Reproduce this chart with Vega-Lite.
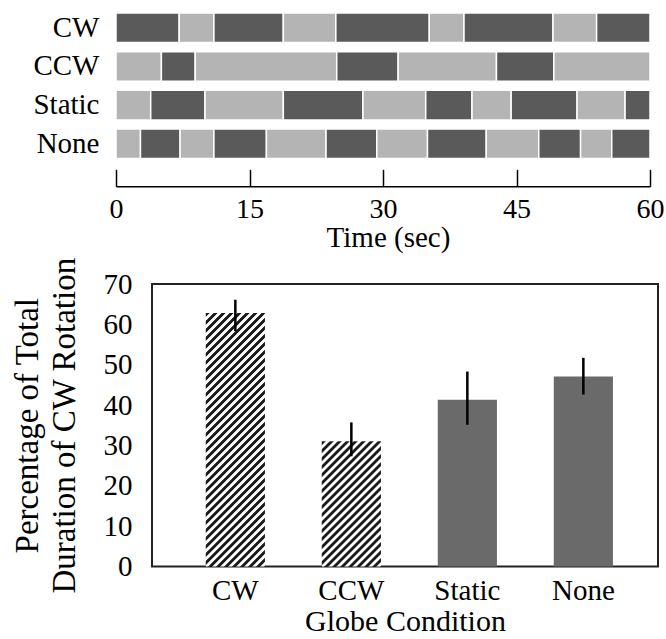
{
 "$schema": "https://vega.github.io/schema/vega-lite/v6.json",
 "padding": {"left": 10, "top": 12, "right": 0, "bottom": 0},
 "background": "white",
 "config": {"font": "Liberation Serif", "axis": {"labelFont": "Liberation Serif", "titleFont": "Liberation Serif", "labelColor": "#000", "titleColor": "#000", "titleFontWeight": "normal", "grid": false}},
 "spacing": 3,
 "datasets": {
  "segments": [
   {"row": "CW", "start": 0, "end": 7.1, "dir": "CW"},
   {"row": "CW", "start": 7.1, "end": 11.0, "dir": "CCW"},
   {"row": "CW", "start": 11.0, "end": 18.8, "dir": "CW"},
   {"row": "CW", "start": 18.8, "end": 24.7, "dir": "CCW"},
   {"row": "CW", "start": 24.7, "end": 35.2, "dir": "CW"},
   {"row": "CW", "start": 35.2, "end": 39.1, "dir": "CCW"},
   {"row": "CW", "start": 39.1, "end": 49.1, "dir": "CW"},
   {"row": "CW", "start": 49.1, "end": 54.0, "dir": "CCW"},
   {"row": "CW", "start": 54.0, "end": 60, "dir": "CW"},
   {"row": "CCW", "start": 0, "end": 5.1, "dir": "CCW"},
   {"row": "CCW", "start": 5.1, "end": 8.9, "dir": "CW"},
   {"row": "CCW", "start": 8.9, "end": 24.8, "dir": "CCW"},
   {"row": "CCW", "start": 24.8, "end": 31.7, "dir": "CW"},
   {"row": "CCW", "start": 31.7, "end": 42.75, "dir": "CCW"},
   {"row": "CCW", "start": 42.75, "end": 49.2, "dir": "CW"},
   {"row": "CCW", "start": 49.2, "end": 60, "dir": "CCW"},
   {"row": "Static", "start": 0, "end": 3.9, "dir": "CCW"},
   {"row": "Static", "start": 3.9, "end": 10.0, "dir": "CW"},
   {"row": "Static", "start": 10.0, "end": 18.8, "dir": "CCW"},
   {"row": "Static", "start": 18.8, "end": 27.75, "dir": "CW"},
   {"row": "Static", "start": 27.75, "end": 34.8, "dir": "CCW"},
   {"row": "Static", "start": 34.8, "end": 40.0, "dir": "CW"},
   {"row": "Static", "start": 40.0, "end": 44.4, "dir": "CCW"},
   {"row": "Static", "start": 44.4, "end": 51.8, "dir": "CW"},
   {"row": "Static", "start": 51.8, "end": 57.2, "dir": "CCW"},
   {"row": "Static", "start": 57.2, "end": 60, "dir": "CW"},
   {"row": "None", "start": 0, "end": 2.75, "dir": "CCW"},
   {"row": "None", "start": 2.75, "end": 7.2, "dir": "CW"},
   {"row": "None", "start": 7.2, "end": 11.0, "dir": "CCW"},
   {"row": "None", "start": 11.0, "end": 16.9, "dir": "CW"},
   {"row": "None", "start": 16.9, "end": 23.6, "dir": "CCW"},
   {"row": "None", "start": 23.6, "end": 29.3, "dir": "CW"},
   {"row": "None", "start": 29.3, "end": 35.0, "dir": "CCW"},
   {"row": "None", "start": 35.0, "end": 41.6, "dir": "CW"},
   {"row": "None", "start": 41.6, "end": 47.5, "dir": "CCW"},
   {"row": "None", "start": 47.5, "end": 52.2, "dir": "CW"},
   {"row": "None", "start": 52.2, "end": 55.7, "dir": "CCW"},
   {"row": "None", "start": 55.7, "end": 60, "dir": "CW"}
  ],
  "bars": [
   {"cond": "CW", "pct": 62.8, "lo": 58.3, "hi": 66.1},
   {"cond": "CCW", "pct": 31.0, "lo": 27.3, "hi": 35.7},
   {"cond": "Static", "pct": 41.3, "lo": 35.1, "hi": 48.3},
   {"cond": "None", "pct": 47.1, "lo": 42.6, "hi": 51.7}
  ]
 },
 "vconcat": [
  {
   "width": 498,
   "height": 145.6,
   "view": {"stroke": null},
   "data": {"name": "segments"},
   "mark": {"type": "bar", "stroke": "white", "strokeWidth": 1.5},
   "encoding": {
    "y": {"field": "row", "type": "nominal", "sort": ["CW", "CCW", "Static", "None"], "scale": {"paddingInner": 0.235, "paddingOuter": 0},
      "axis": {"title": null, "domain": false, "ticks": false, "labelFontSize": 29, "labelPadding": 17, "offset": 36}},
    "x": {"field": "start", "type": "quantitative", "scale": {"domain": [0, 60], "nice": false, "zero": false, "range": [-36, 498]},
      "axis": {"values": [0, 15, 30, 45, 60], "title": "Time (sec)", "titleFontSize": 29, "titlePadding": 0, "titleX": 236, "offset": 27.7, "tickSize": -17, "tickWidth": 1.5, "tickColor": "#000", "domainColor": "#000", "domainWidth": 1.5, "labelFontSize": 28, "labelPadding": 26, "labelFlush": false}},
    "x2": {"field": "end"},
    "color": {"field": "dir", "type": "nominal", "scale": {"domain": ["CW", "CCW"], "range": ["#5a5a5a", "#b4b4b4"]}, "legend": null}
   }
  },
  {
   "width": 506,
   "height": 282.4,
   "view": {"stroke": "#222", "strokeWidth": 2},
   "data": {"name": "bars"},
   "encoding": {
    "x": {"field": "cond", "type": "nominal", "scale": {"domain": ["CW", "CCW", "Static", "None"], "paddingInner": 0.49, "paddingOuter": 0.426, "align": 0.544},
      "axis": {"title": "Globe Condition", "titleFontSize": 30, "titlePadding": 1, "labelAngle": 0, "labelFontSize": 29, "labelPadding": 10, "ticks": false, "domain": false}},
    "y": {"field": "pct", "type": "quantitative", "scale": {"domain": [0, 70], "nice": false},
      "axis": {"values": [0, 10, 20, 30, 40, 50, 60, 70], "title": ["Percentage of Total", "Duration of CW Rotation"], "titleFontSize": 33, "titleLineHeight": 37, "titlePadding": 22, "labelFontSize": 29, "labelPadding": 20, "ticks": false, "domain": false}}
   },
   "layer": [
    {
     "transform": [{"filter": "datum.cond === 'CW'"}],
     "mark": {"type": "bar", "fill": {"gradient": "linear", "x1": 0, "y1": 0, "x2": 0.28, "y2": 1.198, "stops": [
      {"offset":0.001,"color":"#1a1a1a"},{"offset":0.011,"color":"#1a1a1a"},{"offset":0.0135,"color":"#ffffff"},{"offset":0.0235,"color":"#ffffff"},
      {"offset":0.026,"color":"#1a1a1a"},{"offset":0.036,"color":"#1a1a1a"},{"offset":0.0385,"color":"#ffffff"},{"offset":0.0485,"color":"#ffffff"},
      {"offset":0.051,"color":"#1a1a1a"},{"offset":0.061,"color":"#1a1a1a"},{"offset":0.0635,"color":"#ffffff"},{"offset":0.0735,"color":"#ffffff"},
      {"offset":0.076,"color":"#1a1a1a"},{"offset":0.086,"color":"#1a1a1a"},{"offset":0.0885,"color":"#ffffff"},{"offset":0.0985,"color":"#ffffff"},
      {"offset":0.101,"color":"#1a1a1a"},{"offset":0.111,"color":"#1a1a1a"},{"offset":0.1135,"color":"#ffffff"},{"offset":0.1235,"color":"#ffffff"},
      {"offset":0.126,"color":"#1a1a1a"},{"offset":0.136,"color":"#1a1a1a"},{"offset":0.1385,"color":"#ffffff"},{"offset":0.1485,"color":"#ffffff"},
      {"offset":0.151,"color":"#1a1a1a"},{"offset":0.161,"color":"#1a1a1a"},{"offset":0.1635,"color":"#ffffff"},{"offset":0.1735,"color":"#ffffff"},
      {"offset":0.176,"color":"#1a1a1a"},{"offset":0.186,"color":"#1a1a1a"},{"offset":0.1885,"color":"#ffffff"},{"offset":0.1985,"color":"#ffffff"},
      {"offset":0.201,"color":"#1a1a1a"},{"offset":0.211,"color":"#1a1a1a"},{"offset":0.2135,"color":"#ffffff"},{"offset":0.2235,"color":"#ffffff"},
      {"offset":0.226,"color":"#1a1a1a"},{"offset":0.236,"color":"#1a1a1a"},{"offset":0.2385,"color":"#ffffff"},{"offset":0.2485,"color":"#ffffff"},
      {"offset":0.251,"color":"#1a1a1a"},{"offset":0.261,"color":"#1a1a1a"},{"offset":0.2635,"color":"#ffffff"},{"offset":0.2735,"color":"#ffffff"},
      {"offset":0.276,"color":"#1a1a1a"},{"offset":0.286,"color":"#1a1a1a"},{"offset":0.2885,"color":"#ffffff"},{"offset":0.2985,"color":"#ffffff"},
      {"offset":0.301,"color":"#1a1a1a"},{"offset":0.311,"color":"#1a1a1a"},{"offset":0.3135,"color":"#ffffff"},{"offset":0.3235,"color":"#ffffff"},
      {"offset":0.326,"color":"#1a1a1a"},{"offset":0.336,"color":"#1a1a1a"},{"offset":0.3385,"color":"#ffffff"},{"offset":0.3485,"color":"#ffffff"},
      {"offset":0.351,"color":"#1a1a1a"},{"offset":0.361,"color":"#1a1a1a"},{"offset":0.3635,"color":"#ffffff"},{"offset":0.3735,"color":"#ffffff"},
      {"offset":0.376,"color":"#1a1a1a"},{"offset":0.386,"color":"#1a1a1a"},{"offset":0.3885,"color":"#ffffff"},{"offset":0.3985,"color":"#ffffff"},
      {"offset":0.401,"color":"#1a1a1a"},{"offset":0.411,"color":"#1a1a1a"},{"offset":0.4135,"color":"#ffffff"},{"offset":0.4235,"color":"#ffffff"},
      {"offset":0.426,"color":"#1a1a1a"},{"offset":0.436,"color":"#1a1a1a"},{"offset":0.4385,"color":"#ffffff"},{"offset":0.4485,"color":"#ffffff"},
      {"offset":0.451,"color":"#1a1a1a"},{"offset":0.461,"color":"#1a1a1a"},{"offset":0.4635,"color":"#ffffff"},{"offset":0.4735,"color":"#ffffff"},
      {"offset":0.476,"color":"#1a1a1a"},{"offset":0.486,"color":"#1a1a1a"},{"offset":0.4885,"color":"#ffffff"},{"offset":0.4985,"color":"#ffffff"},
      {"offset":0.501,"color":"#1a1a1a"},{"offset":0.511,"color":"#1a1a1a"},{"offset":0.5135,"color":"#ffffff"},{"offset":0.5235,"color":"#ffffff"},
      {"offset":0.526,"color":"#1a1a1a"},{"offset":0.536,"color":"#1a1a1a"},{"offset":0.5385,"color":"#ffffff"},{"offset":0.5485,"color":"#ffffff"},
      {"offset":0.551,"color":"#1a1a1a"},{"offset":0.561,"color":"#1a1a1a"},{"offset":0.5635,"color":"#ffffff"},{"offset":0.5735,"color":"#ffffff"},
      {"offset":0.576,"color":"#1a1a1a"},{"offset":0.586,"color":"#1a1a1a"},{"offset":0.5885,"color":"#ffffff"},{"offset":0.5985,"color":"#ffffff"},
      {"offset":0.601,"color":"#1a1a1a"},{"offset":0.611,"color":"#1a1a1a"},{"offset":0.6135,"color":"#ffffff"},{"offset":0.6235,"color":"#ffffff"},
      {"offset":0.626,"color":"#1a1a1a"},{"offset":0.636,"color":"#1a1a1a"},{"offset":0.6385,"color":"#ffffff"},{"offset":0.6485,"color":"#ffffff"},
      {"offset":0.651,"color":"#1a1a1a"},{"offset":0.661,"color":"#1a1a1a"},{"offset":0.6635,"color":"#ffffff"},{"offset":0.6735,"color":"#ffffff"},
      {"offset":0.676,"color":"#1a1a1a"},{"offset":0.686,"color":"#1a1a1a"},{"offset":0.6885,"color":"#ffffff"},{"offset":0.6985,"color":"#ffffff"},
      {"offset":0.701,"color":"#1a1a1a"},{"offset":0.711,"color":"#1a1a1a"},{"offset":0.7135,"color":"#ffffff"},{"offset":0.7235,"color":"#ffffff"},
      {"offset":0.726,"color":"#1a1a1a"},{"offset":0.736,"color":"#1a1a1a"},{"offset":0.7385,"color":"#ffffff"},{"offset":0.7485,"color":"#ffffff"},
      {"offset":0.751,"color":"#1a1a1a"},{"offset":0.761,"color":"#1a1a1a"},{"offset":0.7635,"color":"#ffffff"},{"offset":0.7735,"color":"#ffffff"},
      {"offset":0.776,"color":"#1a1a1a"},{"offset":0.786,"color":"#1a1a1a"},{"offset":0.7885,"color":"#ffffff"},{"offset":0.7985,"color":"#ffffff"},
      {"offset":0.801,"color":"#1a1a1a"},{"offset":0.811,"color":"#1a1a1a"},{"offset":0.8135,"color":"#ffffff"},{"offset":0.8235,"color":"#ffffff"},
      {"offset":0.826,"color":"#1a1a1a"},{"offset":0.836,"color":"#1a1a1a"},{"offset":0.8385,"color":"#ffffff"},{"offset":0.8485,"color":"#ffffff"},
      {"offset":0.851,"color":"#1a1a1a"},{"offset":0.861,"color":"#1a1a1a"},{"offset":0.8635,"color":"#ffffff"},{"offset":0.8735,"color":"#ffffff"},
      {"offset":0.876,"color":"#1a1a1a"},{"offset":0.886,"color":"#1a1a1a"},{"offset":0.8885,"color":"#ffffff"},{"offset":0.8985,"color":"#ffffff"},
      {"offset":0.901,"color":"#1a1a1a"},{"offset":0.911,"color":"#1a1a1a"},{"offset":0.9135,"color":"#ffffff"},{"offset":0.9235,"color":"#ffffff"},
      {"offset":0.926,"color":"#1a1a1a"},{"offset":0.936,"color":"#1a1a1a"},{"offset":0.9385,"color":"#ffffff"},{"offset":0.9485,"color":"#ffffff"},
      {"offset":0.951,"color":"#1a1a1a"},{"offset":0.961,"color":"#1a1a1a"},{"offset":0.9635,"color":"#ffffff"},{"offset":0.9735,"color":"#ffffff"},
      {"offset":0.976,"color":"#1a1a1a"},{"offset":0.986,"color":"#1a1a1a"},{"offset":0.9885,"color":"#ffffff"},{"offset":0.9985,"color":"#ffffff"}
     ]}}
    },
    {
     "transform": [{"filter": "datum.cond === 'CCW'"}],
     "mark": {"type": "bar", "fill": {"gradient": "linear", "x1": 0, "y1": 0, "x2": 0.989, "y2": 2.09, "stops": [
      {"offset":0.001,"color":"#1a1a1a"},{"offset":0.011,"color":"#1a1a1a"},{"offset":0.0135,"color":"#ffffff"},{"offset":0.0235,"color":"#ffffff"},
      {"offset":0.026,"color":"#1a1a1a"},{"offset":0.036,"color":"#1a1a1a"},{"offset":0.0385,"color":"#ffffff"},{"offset":0.0485,"color":"#ffffff"},
      {"offset":0.051,"color":"#1a1a1a"},{"offset":0.061,"color":"#1a1a1a"},{"offset":0.0635,"color":"#ffffff"},{"offset":0.0735,"color":"#ffffff"},
      {"offset":0.076,"color":"#1a1a1a"},{"offset":0.086,"color":"#1a1a1a"},{"offset":0.0885,"color":"#ffffff"},{"offset":0.0985,"color":"#ffffff"},
      {"offset":0.101,"color":"#1a1a1a"},{"offset":0.111,"color":"#1a1a1a"},{"offset":0.1135,"color":"#ffffff"},{"offset":0.1235,"color":"#ffffff"},
      {"offset":0.126,"color":"#1a1a1a"},{"offset":0.136,"color":"#1a1a1a"},{"offset":0.1385,"color":"#ffffff"},{"offset":0.1485,"color":"#ffffff"},
      {"offset":0.151,"color":"#1a1a1a"},{"offset":0.161,"color":"#1a1a1a"},{"offset":0.1635,"color":"#ffffff"},{"offset":0.1735,"color":"#ffffff"},
      {"offset":0.176,"color":"#1a1a1a"},{"offset":0.186,"color":"#1a1a1a"},{"offset":0.1885,"color":"#ffffff"},{"offset":0.1985,"color":"#ffffff"},
      {"offset":0.201,"color":"#1a1a1a"},{"offset":0.211,"color":"#1a1a1a"},{"offset":0.2135,"color":"#ffffff"},{"offset":0.2235,"color":"#ffffff"},
      {"offset":0.226,"color":"#1a1a1a"},{"offset":0.236,"color":"#1a1a1a"},{"offset":0.2385,"color":"#ffffff"},{"offset":0.2485,"color":"#ffffff"},
      {"offset":0.251,"color":"#1a1a1a"},{"offset":0.261,"color":"#1a1a1a"},{"offset":0.2635,"color":"#ffffff"},{"offset":0.2735,"color":"#ffffff"},
      {"offset":0.276,"color":"#1a1a1a"},{"offset":0.286,"color":"#1a1a1a"},{"offset":0.2885,"color":"#ffffff"},{"offset":0.2985,"color":"#ffffff"},
      {"offset":0.301,"color":"#1a1a1a"},{"offset":0.311,"color":"#1a1a1a"},{"offset":0.3135,"color":"#ffffff"},{"offset":0.3235,"color":"#ffffff"},
      {"offset":0.326,"color":"#1a1a1a"},{"offset":0.336,"color":"#1a1a1a"},{"offset":0.3385,"color":"#ffffff"},{"offset":0.3485,"color":"#ffffff"},
      {"offset":0.351,"color":"#1a1a1a"},{"offset":0.361,"color":"#1a1a1a"},{"offset":0.3635,"color":"#ffffff"},{"offset":0.3735,"color":"#ffffff"},
      {"offset":0.376,"color":"#1a1a1a"},{"offset":0.386,"color":"#1a1a1a"},{"offset":0.3885,"color":"#ffffff"},{"offset":0.3985,"color":"#ffffff"},
      {"offset":0.401,"color":"#1a1a1a"},{"offset":0.411,"color":"#1a1a1a"},{"offset":0.4135,"color":"#ffffff"},{"offset":0.4235,"color":"#ffffff"},
      {"offset":0.426,"color":"#1a1a1a"},{"offset":0.436,"color":"#1a1a1a"},{"offset":0.4385,"color":"#ffffff"},{"offset":0.4485,"color":"#ffffff"},
      {"offset":0.451,"color":"#1a1a1a"},{"offset":0.461,"color":"#1a1a1a"},{"offset":0.4635,"color":"#ffffff"},{"offset":0.4735,"color":"#ffffff"},
      {"offset":0.476,"color":"#1a1a1a"},{"offset":0.486,"color":"#1a1a1a"},{"offset":0.4885,"color":"#ffffff"},{"offset":0.4985,"color":"#ffffff"},
      {"offset":0.501,"color":"#1a1a1a"},{"offset":0.511,"color":"#1a1a1a"},{"offset":0.5135,"color":"#ffffff"},{"offset":0.5235,"color":"#ffffff"},
      {"offset":0.526,"color":"#1a1a1a"},{"offset":0.536,"color":"#1a1a1a"},{"offset":0.5385,"color":"#ffffff"},{"offset":0.5485,"color":"#ffffff"},
      {"offset":0.551,"color":"#1a1a1a"},{"offset":0.561,"color":"#1a1a1a"},{"offset":0.5635,"color":"#ffffff"},{"offset":0.5735,"color":"#ffffff"},
      {"offset":0.576,"color":"#1a1a1a"},{"offset":0.586,"color":"#1a1a1a"},{"offset":0.5885,"color":"#ffffff"},{"offset":0.5985,"color":"#ffffff"}
     ]}}
    },
    {
     "transform": [{"filter": "datum.cond === 'Static' || datum.cond === 'None'"}],
     "mark": {"type": "bar", "fill": "#6a6a6a"}
    },
    {
     "mark": {"type": "rule", "color": "#000", "strokeWidth": 2.5},
     "encoding": {
      "y": {"field": "lo", "type": "quantitative", "title": ["Percentage of Total", "Duration of CW Rotation"]},
      "y2": {"field": "hi"}
     }
    }
   ]
  }
 ]
}
